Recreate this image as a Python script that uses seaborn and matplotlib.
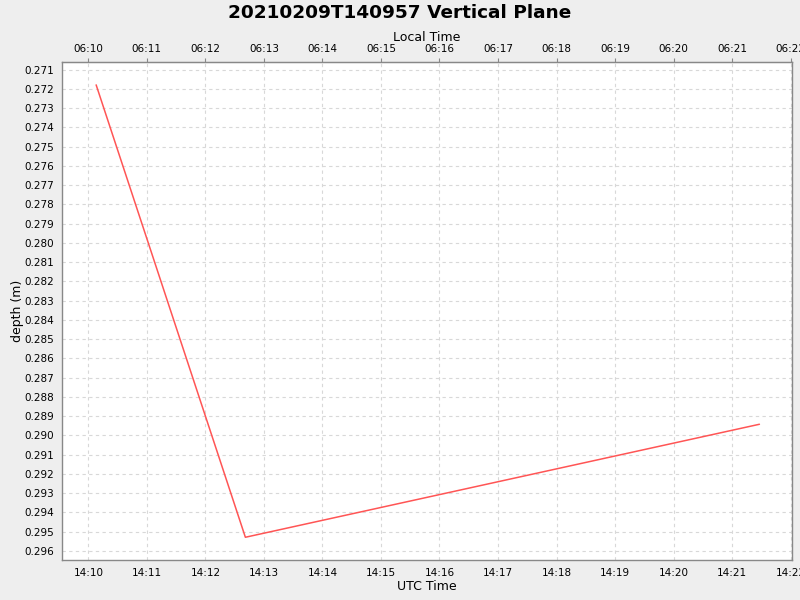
import pandas as pd
import seaborn as sns
import matplotlib.pyplot as plt
import matplotlib.dates as mdates

# Data
utc_times = ['2021-02-09 14:10:08', '2021-02-09 14:12:41', '2021-02-09 14:21:28']
depths = [0.27179, 0.29529, 0.28942]

title = '20210209T140957 Vertical Plane'
x_start = '2021-02-09 14:09:33'
x_end = '2021-02-09 14:22:01'
y_top = 0.27060
y_bottom = 0.29647
y_ticks = [0.271 + 0.001 * i for i in range(26)]

df = pd.DataFrame({'utc': pd.to_datetime(utc_times), 'depth': depths})

sns.set_style('whitegrid')
plt.rcParams['font.family'] = ['DejaVu Sans']

fig = plt.figure(figsize=(8, 6), dpi=100, facecolor='#eeeeee')
ax = fig.add_axes([0.0775, 0.0667, 0.912, 0.83])
ax.set_facecolor('white')

sns.lineplot(data=df, x='utc', y='depth', color='#ff5555', linewidth=1.1, ax=ax, sort=False)

ax.set_xlim(pd.Timestamp(x_start), pd.Timestamp(x_end))
ax.set_ylim(y_bottom, y_top)
ax.set_yticks(y_ticks)
ax.yaxis.set_major_formatter(plt.FuncFormatter(lambda v, p: f'{v:.3f}'))

ax.xaxis.set_major_locator(mdates.MinuteLocator())
ax.xaxis.set_major_formatter(mdates.DateFormatter('%H:%M'))

ax.grid(True, color='#d8d8d8', linestyle=(0, (3, 3)), linewidth=0.8)
for side in ['left', 'bottom', 'top', 'right']:
    ax.spines[side].set_color('#888888')
    ax.spines[side].set_linewidth(1.0)
ax.tick_params(axis='both', direction='out', length=3, width=0.8, color='#888888',
               labelsize=7.5, labelcolor='black', pad=3)

ax.set_xlabel('UTC Time', fontsize=9, color='black', labelpad=1)
ax.set_ylabel('depth (m)', fontsize=9, color='black')
ax.yaxis.set_label_coords(-0.052, 0.5)

# Local time axis on top (UTC - 8h)
off = 8 / 24
sec = ax.secondary_xaxis('top', functions=(lambda x: x - off, lambda x: x + off))
sec.xaxis.set_major_locator(mdates.MinuteLocator())
sec.xaxis.set_major_formatter(mdates.DateFormatter('%H:%M'))
sec.tick_params(direction='out', length=3, width=0.8, color='#888888',
                labelsize=7.5, labelcolor='black', pad=3)
sec.spines['top'].set_color('#888888')
sec.set_xlabel('Local Time', fontsize=9, color='black', labelpad=2)

fig.suptitle(title, fontsize=13.3, fontweight='bold', color='black', y=0.993)

fig.savefig('out.png', dpi=100, facecolor=fig.get_facecolor())
